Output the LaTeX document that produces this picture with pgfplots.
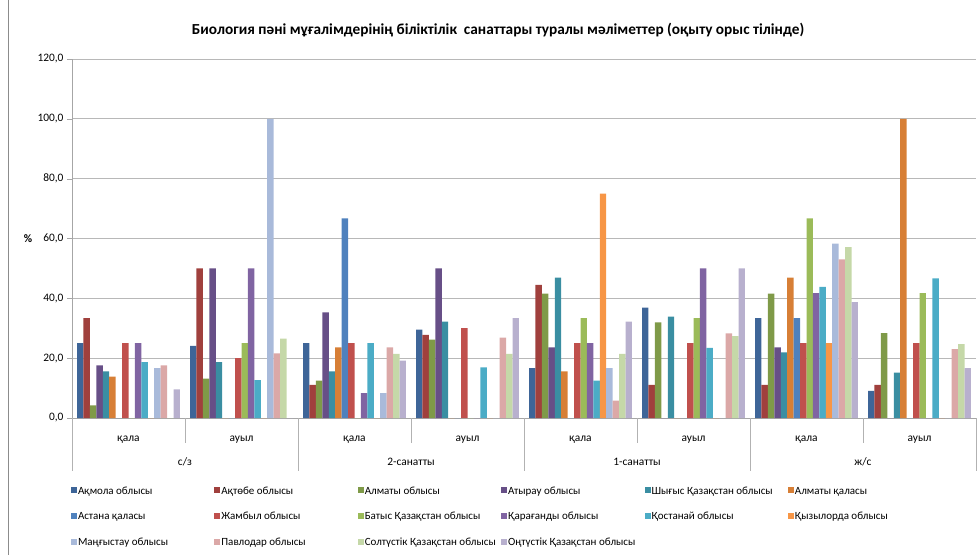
\documentclass[border=0pt]{standalone}
\usepackage{fontspec}
\setmainfont{Carlito}
\usepackage{pgfplots}
\usepackage{pgfplotstable}
\pgfplotsset{compat=1.18}

\definecolor{c1}{HTML}{3E6598}
\definecolor{c2}{HTML}{A0403D}
\definecolor{c3}{HTML}{7F9A48}
\definecolor{c4}{HTML}{674F87}
\definecolor{c5}{HTML}{3A8EA2}
\definecolor{c6}{HTML}{D77F36}
\definecolor{c7}{HTML}{4F81BD}
\definecolor{c8}{HTML}{C0504D}
\definecolor{c9}{HTML}{9BBB59}
\definecolor{c10}{HTML}{8064A2}
\definecolor{c11}{HTML}{4BACC6}
\definecolor{c12}{HTML}{F79646}
\definecolor{c13}{HTML}{A9BADA}
\definecolor{c14}{HTML}{DBA8A7}
\definecolor{c15}{HTML}{C5D8A8}
\definecolor{c16}{HTML}{B8B0CE}

% groups: с/з қала, с/з ауыл, 2-сан. қала, 2-сан. ауыл, 1-сан. қала, 1-сан. ауыл, ж/с қала, ж/с ауыл
\pgfplotstableread{
g s1 s2 s3 s4 s5 s6 s7 s8 s9 s10 s11 s12 s13 s14 s15 s16
0 25.0 33.4 4.2 17.6 15.6 13.8 0 25 0 25 18.7 0 16.7 17.6 0 9.6
1 24.1 50 13.2 50 18.7 0 0 20 25 50 12.7 0 100 21.6 26.5 0
2 25.0 11.1 12.5 35.3 15.6 23.6 66.7 25 0 8.3 25 0 8.3 23.6 21.4 19.2
3 29.5 27.8 26.2 50 32.2 0 0 30 0 0 16.9 0 0 26.9 21.4 33.4
4 16.7 44.5 41.6 23.6 46.9 15.6 0 25 33.4 25 12.5 75 16.7 5.8 21.4 32.2
5 36.9 11.1 32.0 0 33.9 0 0 25 33.4 50 23.4 0 0 28.3 27.4 50
6 33.4 11.1 41.6 23.6 21.9 46.9 33.4 25 66.7 41.7 43.8 25 58.3 53 57.1 38.7
7 9.1 11.1 28.4 0 15.2 100 0 25 41.7 0 46.7 0 0 23 24.7 16.7
}\datatable

\newcommand{\legtext}[1]{\makebox[135.4bp][l]{\rule[-3bp]{0pt}{12bp}#1}}

\begin{document}
\begin{tikzpicture}
\useasboundingbox (0,0) rectangle (977bp,555bp);
\draw[black!45] (8bp,0) -- (8bp,555bp);
\begin{axis}[
  at={(72bp,137bp)}, anchor=south west,
  scale only axis, width=904bp, height=359bp,
  clip=false,
  font=\fontsize{11.4bp}{13.5bp}\selectfont,
  ybar=0pt, bar width=6.43bp,
  xmin=-0.5, xmax=7.5, ymin=0, ymax=120,
  ytick={0,20,...,120},
  axis lines*=left,
  axis line style={black!35},
  ymajorgrids, grid style={black!28, line width=0.9bp},
  tick align=outside,
  tick style={black!35},
  major tick length=5bp,
  xtick={0,...,7},
  xticklabels={қала,ауыл,қала,ауыл,қала,ауыл,қала,ауыл},
  x tick style={draw=none},
  xticklabel style={anchor=center, yshift=-17bp},
  /pgf/number format/assume math mode=true,
  yticklabel style={/pgf/number format/.cd, fixed, fixed zerofill, precision=1, use comma},
  ylabel={\textbf{\%}},
  every axis y label/.style={at={(rel axis cs:0,0.5)}, anchor=center, xshift=-44bp},
  title={\textbf{Биология пәні мұғалімдерінің біліктілік\ \ санаттары туралы мәліметтер (оқыту орыс тілінде)}},
  every axis title/.style={font=\fontsize{15.3bp}{18bp}\selectfont, at={(rel axis cs:0.5,1)}, anchor=center, yshift=29bp, xshift=-26bp},
  every axis plot/.append style={draw=none},
  legend image code/.code={\fill[#1] (0bp,-3bp) rectangle (6bp,3bp);},
  legend columns=6,
  legend style={draw=none, fill=none, inner sep=0pt, outer sep=0pt,
    at={(rel axis cs:0,0)}, anchor=north west, xshift=-1bp, yshift=-66bp,
    nodes={inner sep=1bp}, row sep=13.5bp, column sep=0pt,
    font=\fontsize{11bp}{13bp}\selectfont},
  legend cell align=left,
]
\addplot[fill=c1] table[x=g, y=s1]{\datatable};
\addplot[fill=c2] table[x=g, y=s2]{\datatable};
\addplot[fill=c3] table[x=g, y=s3]{\datatable};
\addplot[fill=c4] table[x=g, y=s4]{\datatable};
\addplot[fill=c5] table[x=g, y=s5]{\datatable};
\addplot[fill=c6] table[x=g, y=s6]{\datatable};
\addplot[fill=c7] table[x=g, y=s7]{\datatable};
\addplot[fill=c8] table[x=g, y=s8]{\datatable};
\addplot[fill=c9] table[x=g, y=s9]{\datatable};
\addplot[fill=c10] table[x=g, y=s10]{\datatable};
\addplot[fill=c11] table[x=g, y=s11]{\datatable};
\addplot[fill=c12] table[x=g, y=s12]{\datatable};
\addplot[fill=c13] table[x=g, y=s13]{\datatable};
\addplot[fill=c14] table[x=g, y=s14]{\datatable};
\addplot[fill=c15] table[x=g, y=s15]{\datatable};
\addplot[fill=c16] table[x=g, y=s16]{\datatable};
\legend{\legtext{Ақмола облысы},\legtext{Ақтөбе облысы},\legtext{Алматы облысы},\legtext{Атырау облысы},\legtext{Шығыс Қазақстан облысы},\legtext{Алматы қаласы},
  \legtext{Астана қаласы},\legtext{Жамбыл облысы},\legtext{Батыс Қазақстан облысы},\legtext{Қарағанды облысы},\legtext{Қостанай облысы},\legtext{Қызылорда облысы},
  \legtext{Маңғыстау облысы},\legtext{Павлодар облысы},\legtext{Солтүстік Қазақстан облысы},\legtext{Оңтүстік Қазақстан облысы}}
% separators of the two-level category axis
\pgfplotsinvokeforeach{0.5,2.5,4.5,6.5}{
  \draw[black!30] (axis cs:#1,0) -- ++(0pt,-25bp);
}
\pgfplotsinvokeforeach{-0.5,1.5,3.5,5.5,7.5}{
  \draw[black!30] (axis cs:#1,0) -- ++(0pt,-53bp);
}
\node[anchor=center] at (axis cs:0.5,0) [yshift=-44bp] {с/з};
\node[anchor=center] at (axis cs:2.5,0) [yshift=-44bp] {2-санатты};
\node[anchor=center] at (axis cs:4.5,0) [yshift=-44bp] {1-санатты};
\node[anchor=center] at (axis cs:6.5,0) [yshift=-44bp] {ж/с};
\end{axis}
\end{tikzpicture}
\end{document}
